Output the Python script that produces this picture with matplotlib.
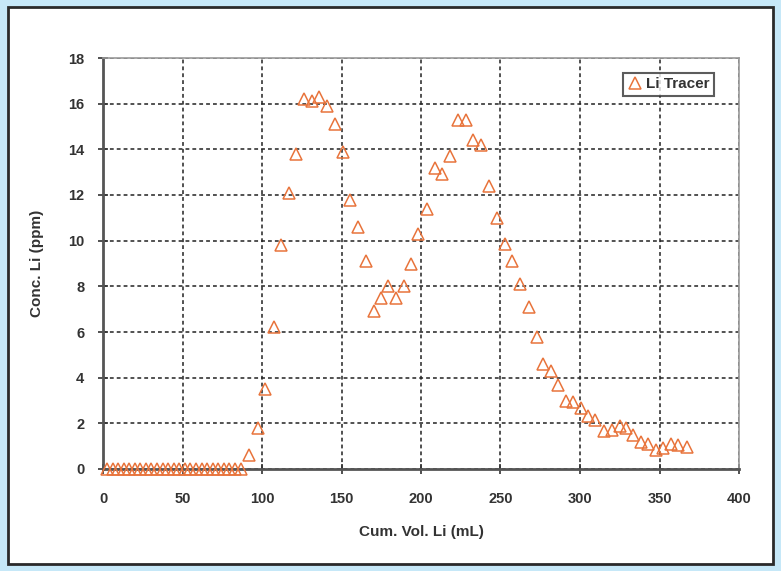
import matplotlib
matplotlib.use("Agg")
import matplotlib.pyplot as plt
from matplotlib.patches import Rectangle
import numpy as np

plt.rcParams['font.family'] = ['Liberation Sans Narrow', 'Liberation Sans', 'DejaVu Sans']

# Data
zero_vol = [2.5, 6, 9.5, 13, 16.5, 20, 23.5, 27, 30.5, 34, 37.5, 41, 44.5, 48, 51.5,
            55, 58.5, 62, 65.5, 69, 72.5, 76, 79.5, 83, 86.5]
zero_conc = [0.0] * len(zero_vol)

vol = [92, 97.5, 102, 107.5, 112, 117, 121.5, 126.5, 131.5, 136, 141, 146, 151,
       155.5, 160.5, 165.5, 170.5, 175, 179.5, 184, 189, 193.5, 198, 204, 208.5,
       213.5, 218.5, 223, 228, 233, 238, 242.5, 247.5, 253, 257.5, 262.5, 268,
       273, 277, 282, 286, 291, 295.5, 300.5, 305, 309.5, 315, 320, 325, 329,
       333.5, 338.5, 343, 348, 352.5, 357, 361.5, 367.5]
conc = [0.6, 1.8, 3.5, 6.2, 9.8, 12.1, 13.8, 16.2, 16.1, 16.3, 15.9, 15.1, 13.9,
        11.8, 10.6, 9.1, 6.9, 7.5, 8.0, 7.5, 8.0, 9.0, 10.3, 11.4, 13.2,
        12.9, 13.7, 15.3, 15.3, 14.4, 14.2, 12.4, 11.0, 9.85, 9.1, 8.1, 7.1,
        5.8, 4.6, 4.3, 3.7, 3.0, 2.95, 2.65, 2.3, 2.15, 1.65, 1.7, 1.9, 1.8,
        1.5, 1.2, 1.1, 0.85, 0.9, 1.1, 1.05, 0.95]

all_vol = zero_vol + vol
all_conc = zero_conc + conc

x_ticks = [0, 50, 100, 150, 200, 250, 300, 350, 400]
y_ticks = [0, 2, 4, 6, 8, 10, 12, 14, 16, 18]

fig = plt.figure(figsize=(7.81, 5.71), dpi=100)
fig.patch.set_facecolor('#c6e8f8')
panel = Rectangle((8/781, 1-564/571), 765/781, 557/571, transform=fig.transFigure,
                  facecolor='white', edgecolor='#2a2a2a', linewidth=2.0, zorder=-10)
fig.add_artist(panel)

ax = fig.add_axes([103/781, 1-469/571, 636/781, 411/571])
ax.set_zorder(5)
ax.set_facecolor('white')
ax.plot(all_vol, all_conc, linestyle='none', marker='^', markersize=9,
        markerfacecolor='none', markeredgecolor='#e8743c', markeredgewidth=1.1,
        label='Li Tracer', clip_on=False, zorder=3)

ax.set_xlim(0, 400)
ax.set_ylim(0, 18)
ax.set_xticks(x_ticks)
ax.set_yticks(y_ticks)
ax.grid(True, color='#222222', linestyle=(0, (2.5, 2)), linewidth=1.1)
ax.set_axisbelow(True)

for s in ['top', 'right']:
    ax.spines[s].set_color('#9a9a9a')
    ax.spines[s].set_linewidth(1.2)
for s in ['left', 'bottom']:
    ax.spines[s].set_color('#555555')
    ax.spines[s].set_linewidth(2.0)

ax.tick_params(direction='inout', length=7, width=1.2, color='#333333',
               labelsize=10.5, labelcolor='#333333')
ax.tick_params(axis='x', pad=13)
ax.tick_params(axis='y', pad=10)
for lab in ax.get_xticklabels() + ax.get_yticklabels():
    lab.set_fontweight('bold')

ax.set_xlabel('Cum. Vol. Li (mL)', fontsize=11, fontweight='bold', color='#333333', labelpad=14)
ax.set_ylabel('Conc. Li (ppm)', fontsize=11, fontweight='bold', color='#333333', labelpad=17)

leg = ax.legend(loc='upper right', bbox_to_anchor=(0.968, 0.975), frameon=True, fancybox=False,
                edgecolor='#333333', handlelength=0.9, handletextpad=0.3,
                borderpad=0.3, borderaxespad=0.3, prop={'weight': 'bold', 'size': 11})
leg.get_frame().set_linewidth(1.5)
for t in leg.get_texts():
    t.set_color('#333333')

fig.savefig('out.png', dpi=100, facecolor=fig.get_facecolor())
